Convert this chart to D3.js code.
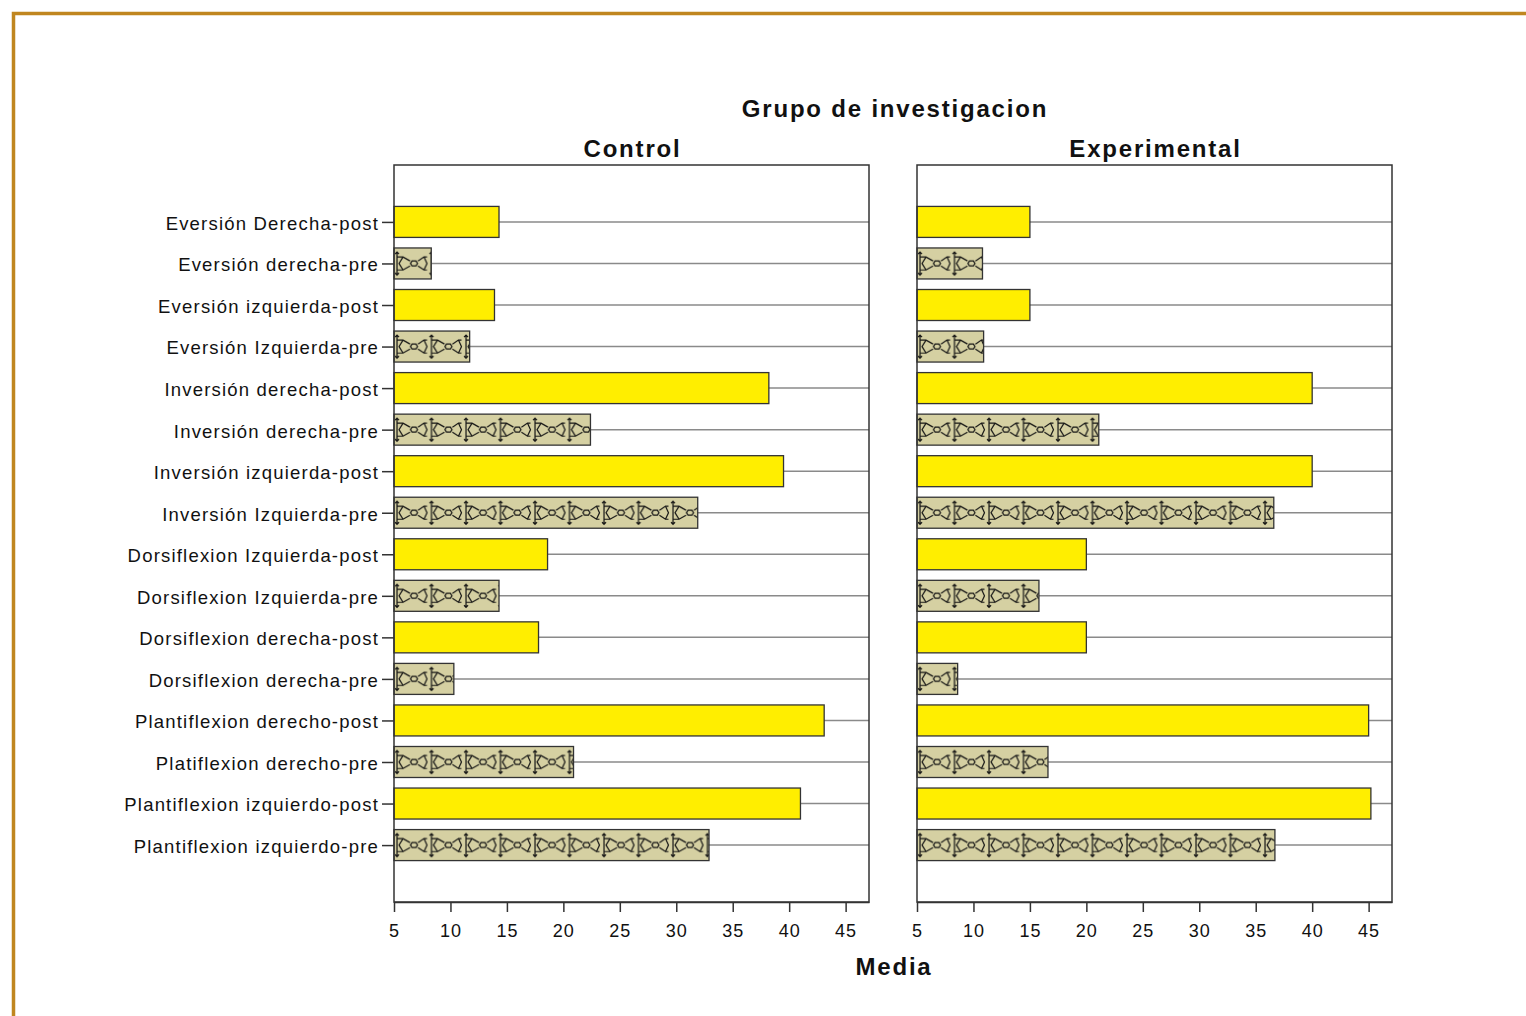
<!DOCTYPE html>
<html>
<head>
<meta charset="utf-8">
<script src="https://cdn.jsdelivr.net/npm/d3@7"></script>
<style>
    body { margin: 0; background: #fff; }
    text { font-family: "Liberation Sans", Arial, sans-serif; fill: #111; }
</style>
</head>
<body>
<div id="chart"></div>
<script>
// categories, top to bottom
const categories = [
    "Eversión Derecha-post", "Eversión derecha-pre", "Eversión izquierda-post", "Eversión Izquierda-pre",
    "Inversión derecha-post", "Inversión derecha-pre", "Inversión izquierda-post", "Inversión Izquierda-pre",
    "Dorsiflexion Izquierda-post", "Dorsiflexion Izquierda-pre", "Dorsiflexion derecha-post", "Dorsiflexion derecha-pre",
    "Plantiflexion derecho-post", "Platiflexion derecho-pre", "Plantiflexion izquierdo-post", "Plantiflexion izquierdo-pre"
];
const groups = ["Control", "Experimental"];
const controlMeans = [14.3, 8.3, 13.9, 11.7, 38.2, 22.4, 39.5, 31.9, 18.6, 14.3, 17.8, 10.3, 43.1, 20.9, 41.0, 32.9];
const experimentalMeans = [15.0, 10.8, 15.0, 10.9, 40.0, 21.1, 40.0, 36.6, 20.0, 15.8, 20.0, 8.6, 45.0, 16.6, 45.2, 36.7];
const xTicks = [5, 10, 15, 20, 25, 30, 35, 40, 45];

const W = 1526, H = 1016;
const panelTop = 165, panelBottom = 902, panelW = 475;
const panelLeft = [394, 917];

const svg = d3.select("#chart").append("svg")
    .attr("width", W).attr("height", H);

// outer frame
svg.append("path")
    .attr("d", `M13.5,${H} V13.5 H${W}`)
    .attr("fill", "none")
    .attr("stroke", "#c0861f")
    .attr("stroke-width", 3.5);

const x = d3.scaleLinear().domain([5, 47.07]).range([0, panelW]);
const y = d3.scalePoint().domain(categories)
    .range([0, panelBottom - panelTop]).padding(1.37);
const barH = 31;
const step = y.step();

// hatch pattern for "pre" bars
const defs = svg.append("defs");
const pat = defs.append("pattern")
    .attr("id", "pre-pattern")
    .attr("patternUnits", "userSpaceOnUse")
    .attr("x", 0)
    .attr("y", y(categories[0]) - barH / 2)
    .attr("width", 34.5)
    .attr("height", step);
const pg = pat.append("g").attr("fill", "none").attr("stroke", "#111").attr("stroke-width", 1.2);
pg.append("path").attr("d", "M3,4 V27 M1,6 L3,4 L5,6 M1,25 L3,27 L5,25");
pg.append("path").attr("d", "M3,9 H9 L16,13 M3,22 H9 L16,18 M24,13 L30,9 H33 M24,18 L30,22 H33");
pg.append("path").attr("d", "M9,9 L5,15.5 L9,22 M30,9 L33,15.5 L30,22");
pg.append("path").attr("d", "M16.5,15.5 L18,13 H22 L23.5,15.5 L22,18 H18 Z");

// titles
const titleStyle = sel => sel.attr("text-anchor", "middle")
    .style("font-size", "24px").style("font-weight", "bold").style("letter-spacing", "1.8px");
svg.append("text").attr("x", 895).attr("y", 117).call(titleStyle).text("Grupo de investigacion");
svg.append("text").attr("x", 894).attr("y", 975).call(titleStyle).text("Media");

groups.forEach((grp, gi) => {
    const values = gi === 0 ? controlMeans : experimentalMeans;
    const g = svg.append("g").attr("transform", `translate(${panelLeft[gi]},${panelTop})`);

    svg.append("text")
        .attr("x", panelLeft[gi] + panelW / 2 + 1).attr("y", 157)
        .call(titleStyle).text(grp);

    // grid lines per category
    g.selectAll(".grid").data(categories).enter().append("line")
        .attr("x1", 0).attr("x2", panelW)
        .attr("y1", d => y(d)).attr("y2", d => y(d))
        .attr("stroke", "#8a8a8a").attr("stroke-width", 1.5);

    // bars
    const bars = g.selectAll(".bar").data(categories).enter().append("g");
    bars.append("rect")
        .attr("x", 0).attr("y", d => y(d) - barH / 2)
        .attr("width", (d, i) => x(values[i]))
        .attr("height", barH)
        .attr("fill", d => d.endsWith("pre") ? "#d5d0a2" : "#ffee00");
    bars.filter(d => d.endsWith("pre")).append("rect")
        .attr("x", 0).attr("y", d => y(d) - barH / 2)
        .attr("width", d => x(values[categories.indexOf(d)]))
        .attr("height", barH)
        .attr("fill", "url(#pre-pattern)");
    bars.append("rect")
        .attr("x", 0).attr("y", d => y(d) - barH / 2)
        .attr("width", (d, i) => x(values[i]))
        .attr("height", barH)
        .attr("fill", "none").attr("stroke", "#333").attr("stroke-width", 1.3);

    // frame
    g.append("rect").attr("x", 0).attr("y", 0)
        .attr("width", panelW).attr("height", panelBottom - panelTop)
        .attr("fill", "none").attr("stroke", "#333").attr("stroke-width", 1.5);

    // x axis
    const xa = g.append("g").attr("transform", `translate(0,${panelBottom - panelTop})`)
        .call(d3.axisBottom(x).tickValues(xTicks).tickSize(10).tickSizeOuter(0).tickPadding(12));
    xa.select(".domain").attr("stroke", "#333").attr("stroke-width", 1.5);
    xa.selectAll(".tick line").attr("stroke", "#333").attr("stroke-width", 1.5);
    xa.selectAll("text").style("font-size", "18px").style("letter-spacing", "1px").attr("fill", "#111");

    if (gi === 0) {
        const ya = g.append("g")
            .call(d3.axisLeft(y).tickSize(12).tickPadding(3));
        ya.select(".domain").remove();
        ya.selectAll(".tick line").attr("stroke", "#333").attr("stroke-width", 1.5);
        ya.selectAll("text").style("font-size", "18.5px").style("letter-spacing", "1.2px")
            .attr("dy", "0.4em").attr("fill", "#111");
    }
});
</script>
</body>
</html>
